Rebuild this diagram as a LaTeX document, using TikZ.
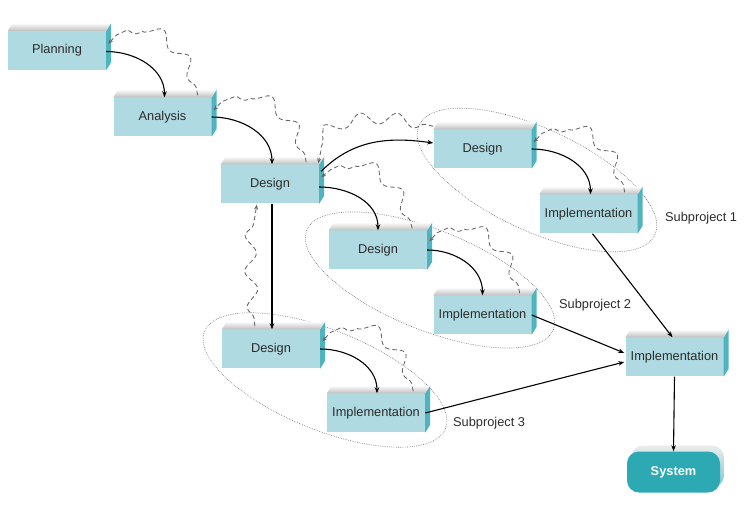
\documentclass[tikz,border=0pt]{standalone}
\usepackage{fontspec}
\setmainfont{Liberation Sans}
\usetikzlibrary{arrows.meta,calc,decorations.pathmorphing}
\definecolor{front}{HTML}{AFDAE1}
\definecolor{sidec}{HTML}{4FB4BE}
\definecolor{txt}{HTML}{2B2B2B}
\definecolor{sysc}{HTML}{2CA9B2}
\begin{document}
\begin{tikzpicture}[x=1pt,y=1pt,
  box/.style={fill=front, minimum width=98pt, minimum height=39pt, inner sep=0pt, text=txt, font=\fontsize{12.8}{14}\selectfont},
  flow/.style={line width=1.1pt, -{Stealth[length=6pt,width=4.5pt]}},
  back/.style={draw=black!60, line width=0.85pt, dash pattern=on 4.5pt off 3pt, decorate,
     decoration={snake, amplitude=6pt, segment length=36pt, pre length=8pt, post length=12pt},
     -{Stealth[length=5pt,width=4pt]}},
  grp/.style={draw=black!55, line width=0.6pt, dash pattern=on 0.7pt off 1.1pt},
  lbl/.style={text=txt, font=\fontsize{12.8}{14}\selectfont, anchor=west, inner sep=0pt}]
\useasboundingbox (0,0) rectangle (748,-505);

% subproject ellipses
\draw[grp] (537,-180) ellipse [x radius=130pt, y radius=51pt, rotate=-25];
\draw[grp] (430,-280) ellipse [x radius=133pt, y radius=50pt, rotate=-22];
\draw[grp] (325,-380) ellipse [x radius=130pt, y radius=50pt, rotate=-22];

% boxes
\node[box] (plan) at (57,-50.5) {Planning};
\node[box] (anal) at (162.5,-117) {Analysis};
\node[box] (des)  at (270,-184) {Design};
\node[box] (d1)   at (482.5,-149) {Design};
\node[box] (i1)   at (588.5,-214) {Implementation};
\node[box] (d2)   at (378,-250) {Design};
\node[box] (i2)   at (482.5,-315) {Implementation};
\node[box] (d3)   at (271,-349) {Design};
\node[box] (i3)   at (376,-413) {Implementation};
\node[box] (fin)  at (674.5,-357) {Implementation};

\foreach \n in {plan,anal,des,d1,i1,d2,i2,d3,i3,fin}{
  \fill[sidec] (\n.north east) -- ++(5,8) -- ($(\n.south east)+(5,8)$) -- (\n.south east) -- cycle;
  \shade[top color=white, bottom color=gray!50] (\n.north west) -- ++(5,8) -- ($(\n.north east)+(5,8)$) -- (\n.north east) -- cycle;
}

% system
\coordinate (syc) at (673.5,-472);
\shade[rounded corners=12pt, top color=gray!15, bottom color=sidec!75] ($(syc)+(-42.5,-15.5)$) rectangle ($(syc)+(50.5,26.5)$);
\node[fill=sysc, rounded corners=12pt, minimum width=93pt, minimum height=41pt, inner sep=0pt, text=white, font=\fontsize{12.8}{14}\selectfont\bfseries] (sys) at (syc) {System};

% labels
\node[lbl] (s1) at (665,-218) {Subproject 1};
\node[lbl] (s2) at (559,-305) {Subproject 2};
\node[lbl] (s3) at (453,-423) {Subproject 3};

% forward flow
\coordinate (dsb) at ($(des.south)+(2,0)$);
\draw[flow] ($(plan.east)+(0,-1)$) to[out=0,in=90] ($(anal.north)+(2,0)$);
\draw[flow] (anal.east) to[out=0,in=90] ($(des.north)+(2,0)$);
\draw[flow] ($(des.north east)+(2,-7)$) to[out=45,in=172] ($(d1.west)+(0,6)$);
\draw[flow] ($(des.east)+(0,-3)$) to[out=0,in=90] (d2.north);
\draw[flow] (dsb) -- (dsb |- d3.north);
\draw[flow] (d1.east) to[out=0,in=90] ($(i1.north)+(2,0)$);
\draw[flow] (d2.east) to[out=0,in=90] (i2.north);
\draw[flow] (d3.east) to[out=0,in=90] ($(i3.north)+(1,0)$);
\draw[flow] ($(i1.south)+(4,0)$) -- ($(fin.north)+(-2,0)$);
\draw[flow] (i2.east) -- ($(fin.west)+(-1,4)$);
\draw[flow] (i3.east) -- ($(fin.west)+(-1,-5)$);
\draw[flow] (fin.south) -- (sys.north);

% feedback
\draw[back] ($(anal.north east)+(-14,2)$) to[out=95,in=60] ($(plan.north east)+(2,-13)$);
\draw[back] ($(des.north east)+(-13,2)$) to[out=95,in=60] ($(anal.north east)+(2,-13)$);
\draw[back] ($(d1.north west)+(0,3)$) to[out=165,in=85] ($(des.north east)+(-1,1)$);
\draw[back] ($(d2.north east)+(-15,2)$) to[out=100,in=50] ($(des.north east)+(2,-13)$);
\draw[back] ($(d3.north west)+(33,3)$) to[out=95,in=-100] ($(des.south west)+(36,-1)$);
\draw[back] ($(i1.north east)+(-13,2)$) to[out=95,in=60] ($(d1.north east)+(2,-13)$);
\draw[back] ($(i2.north east)+(-12,2)$) to[out=95,in=60] ($(d2.north east)+(2,-11)$);
\draw[back] ($(i3.north east)+(-12,2)$) to[out=95,in=60] ($(d3.north east)+(2,-12)$);
\end{tikzpicture}
\end{document}
